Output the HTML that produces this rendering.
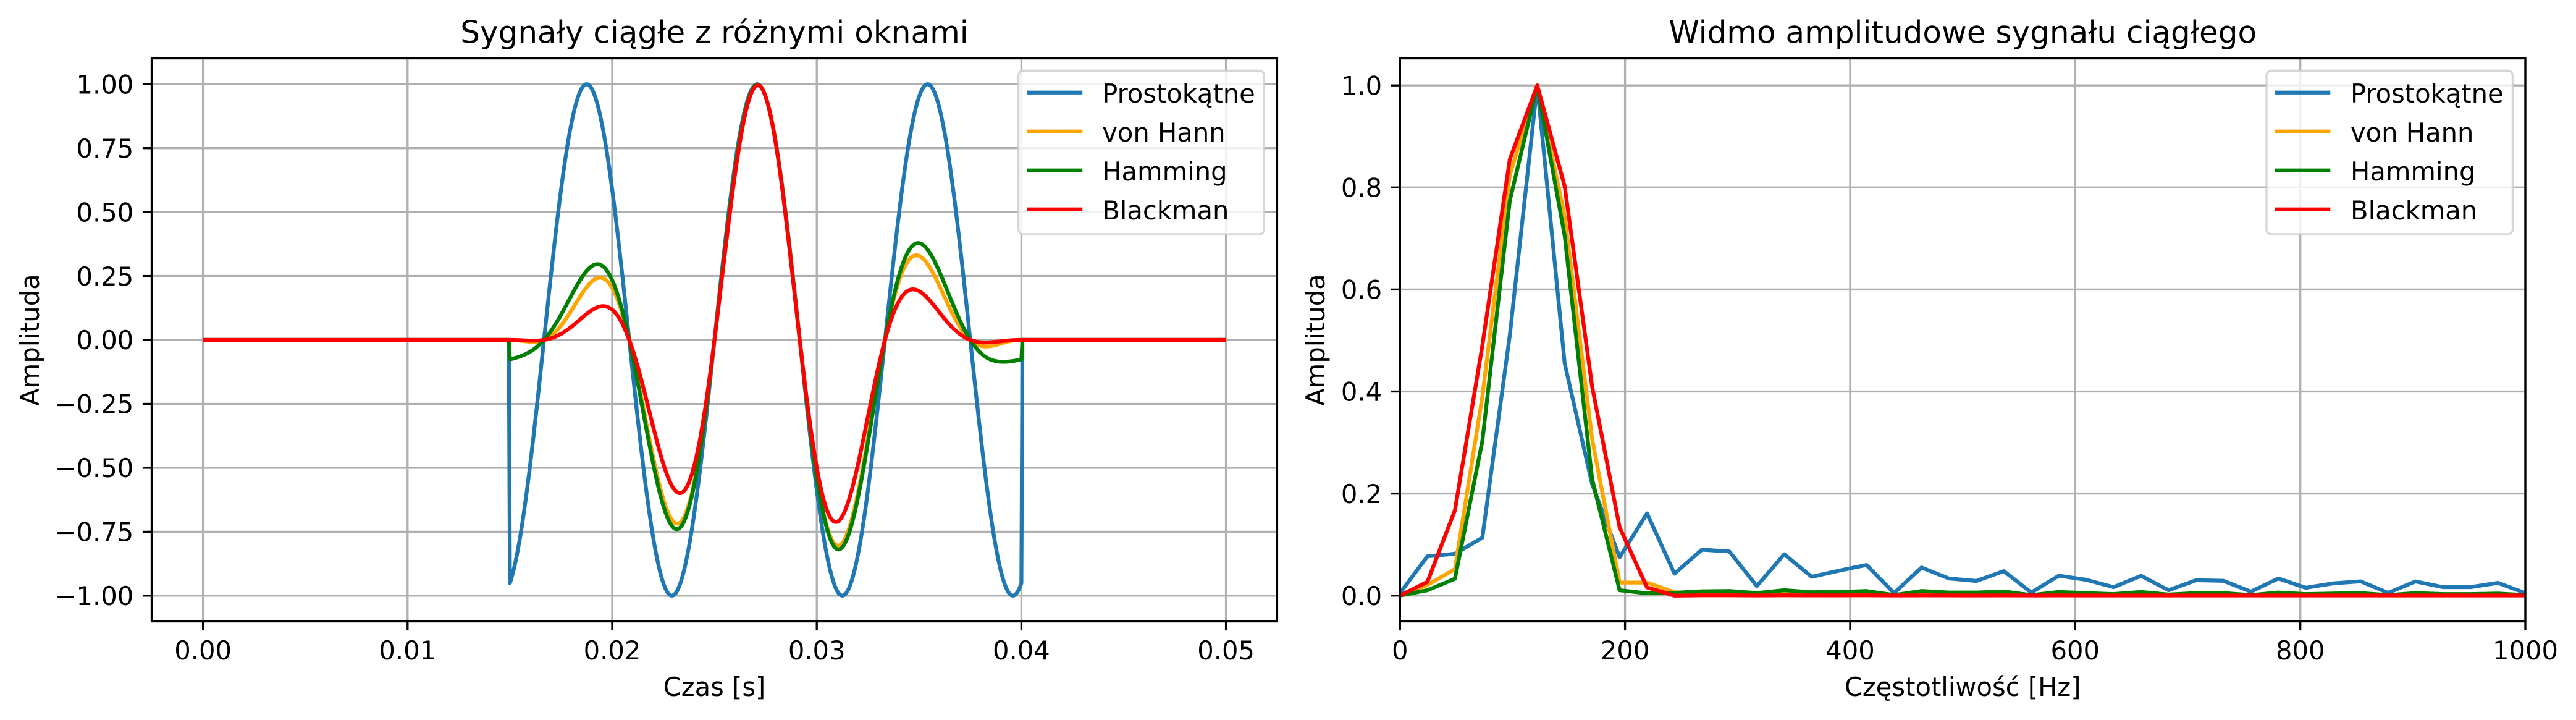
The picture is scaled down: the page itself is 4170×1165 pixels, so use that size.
<!DOCTYPE html>
<html>
<head>
<meta charset="utf-8">
<style>
  html, body { margin: 0; padding: 0; background: #ffffff; }
  svg { display: block; }
  text { font-family: "DejaVu Sans", "Liberation Sans", sans-serif; fill: #000; }
</style>
</head>
<body>
<svg id="fig" xmlns="http://www.w3.org/2000/svg" width="4170" height="1165" viewBox="0 0 4170 1165">
  <rect x="0" y="0" width="4170" height="1165" fill="#ffffff"/>
  <defs>
    <clipPath id="clipL"><rect x="245.5" y="94.5" width="1821.9" height="911"/></clipPath>
    <clipPath id="clipR"><rect x="2266.3" y="94.5" width="1821.7" height="911"/></clipPath>
  </defs>

  <!-- ===================== LEFT AXES ===================== -->
  <g stroke="#b0b0b0" stroke-width="3.33" fill="none">
    <!-- vertical grid -->
    <line x1="328.6" y1="94.5" x2="328.6" y2="1005.5"/>
    <line x1="659.8" y1="94.5" x2="659.8" y2="1005.5"/>
    <line x1="991.0" y1="94.5" x2="991.0" y2="1005.5"/>
    <line x1="1322.2" y1="94.5" x2="1322.2" y2="1005.5"/>
    <line x1="1653.4" y1="94.5" x2="1653.4" y2="1005.5"/>
    <line x1="1984.6" y1="94.5" x2="1984.6" y2="1005.5"/>
    <!-- horizontal grid -->
    <line x1="245.5" y1="136.2" x2="2067.4" y2="136.2"/>
    <line x1="245.5" y1="239.7" x2="2067.4" y2="239.7"/>
    <line x1="245.5" y1="343.1" x2="2067.4" y2="343.1"/>
    <line x1="245.5" y1="446.6" x2="2067.4" y2="446.6"/>
    <line x1="245.5" y1="550.0" x2="2067.4" y2="550.0"/>
    <line x1="245.5" y1="653.5" x2="2067.4" y2="653.5"/>
    <line x1="245.5" y1="756.9" x2="2067.4" y2="756.9"/>
    <line x1="245.5" y1="860.4" x2="2067.4" y2="860.4"/>
    <line x1="245.5" y1="963.8" x2="2067.4" y2="963.8"/>
  </g>

  <g clip-path="url(#clipL)" fill="none" stroke-width="6.25" stroke-linejoin="round" stroke-linecap="butt">
    <path id="L0" stroke="#1f77b4" d=""/>
    <path id="L1" stroke="#ffa500" d=""/>
    <path id="L2" stroke="#008000" d=""/>
    <path id="L3" stroke="#ff0000" d=""/>
  </g>

  <!-- spines left -->
  <rect x="245.5" y="94.5" width="1821.9" height="911" fill="none" stroke="#000" stroke-width="3.33"/>
  <!-- ticks left -->
  <g stroke="#000" stroke-width="3.33">
    <line x1="328.6" y1="1005.5" x2="328.6" y2="1020.1"/>
    <line x1="659.8" y1="1005.5" x2="659.8" y2="1020.1"/>
    <line x1="991.0" y1="1005.5" x2="991.0" y2="1020.1"/>
    <line x1="1322.2" y1="1005.5" x2="1322.2" y2="1020.1"/>
    <line x1="1653.4" y1="1005.5" x2="1653.4" y2="1020.1"/>
    <line x1="1984.6" y1="1005.5" x2="1984.6" y2="1020.1"/>
    <line x1="230.9" y1="136.2" x2="245.5" y2="136.2"/>
    <line x1="230.9" y1="239.7" x2="245.5" y2="239.7"/>
    <line x1="230.9" y1="343.1" x2="245.5" y2="343.1"/>
    <line x1="230.9" y1="446.6" x2="245.5" y2="446.6"/>
    <line x1="230.9" y1="550.0" x2="245.5" y2="550.0"/>
    <line x1="230.9" y1="653.5" x2="245.5" y2="653.5"/>
    <line x1="230.9" y1="756.9" x2="245.5" y2="756.9"/>
    <line x1="230.9" y1="860.4" x2="245.5" y2="860.4"/>
    <line x1="230.9" y1="963.8" x2="245.5" y2="963.8"/>
  </g>
  <!-- tick labels left -->
  <g font-size="41.67" text-anchor="middle">
    <text x="328.6" y="1067">0.00</text>
    <text x="659.8" y="1067">0.01</text>
    <text x="991.0" y="1067">0.02</text>
    <text x="1322.2" y="1067">0.03</text>
    <text x="1653.4" y="1067">0.04</text>
    <text x="1984.6" y="1067">0.05</text>
  </g>
  <g font-size="41.67" text-anchor="end">
    <text x="216.3" y="151.4">1.00</text>
    <text x="216.3" y="254.9">0.75</text>
    <text x="216.3" y="358.3">0.50</text>
    <text x="216.3" y="461.8">0.25</text>
    <text x="216.3" y="565.2">0.00</text>
    <text x="216.3" y="668.7">−0.25</text>
    <text x="216.3" y="772.1">−0.50</text>
    <text x="216.3" y="875.6">−0.75</text>
    <text x="216.3" y="979.0">−1.00</text>
  </g>
  <text x="1156.5" y="69.5" font-size="50" text-anchor="middle">Sygnały ciągłe z różnymi oknami</text>
  <text x="1156.5" y="1126" font-size="41.67" text-anchor="middle">Czas [s]</text>
  <text x="0" y="0" font-size="41.67" text-anchor="middle" transform="translate(63,550) rotate(-90)">Amplituda</text>

  <!-- legend left -->
  <rect x="1648.7" y="114.3" width="397.7" height="264.7" rx="8" ry="8" fill="#ffffff" fill-opacity="0.8" stroke="#cccccc" stroke-opacity="0.8" stroke-width="3.33"/>
  <g stroke-width="6.25">
    <line x1="1662.9" y1="149.7" x2="1752.2" y2="149.7" stroke="#1f77b4"/>
    <line x1="1662.9" y1="212.7" x2="1752.2" y2="212.7" stroke="#ffa500"/>
    <line x1="1662.9" y1="275.7" x2="1752.2" y2="275.7" stroke="#008000"/>
    <line x1="1662.9" y1="338.7" x2="1752.2" y2="338.7" stroke="#ff0000"/>
  </g>
  <g font-size="41.67">
    <text x="1784.2" y="166.2">Prostokątne</text>
    <text x="1784.2" y="229.2">von Hann</text>
    <text x="1784.2" y="292.2">Hamming</text>
    <text x="1784.2" y="355.2">Blackman</text>
  </g>

  <!-- ===================== RIGHT AXES ===================== -->
  <g stroke="#b0b0b0" stroke-width="3.33" fill="none">
    <line x1="2266.3" y1="94.5" x2="2266.3" y2="1005.5"/>
    <line x1="2630.6" y1="94.5" x2="2630.6" y2="1005.5"/>
    <line x1="2995.0" y1="94.5" x2="2995.0" y2="1005.5"/>
    <line x1="3359.3" y1="94.5" x2="3359.3" y2="1005.5"/>
    <line x1="3723.7" y1="94.5" x2="3723.7" y2="1005.5"/>
    <line x1="4088.0" y1="94.5" x2="4088.0" y2="1005.5"/>
    <line x1="2266.3" y1="138.2" x2="4088" y2="138.2"/>
    <line x1="2266.3" y1="303.3" x2="4088" y2="303.3"/>
    <line x1="2266.3" y1="468.4" x2="4088" y2="468.4"/>
    <line x1="2266.3" y1="633.5" x2="4088" y2="633.5"/>
    <line x1="2266.3" y1="798.6" x2="4088" y2="798.6"/>
    <line x1="2266.3" y1="963.7" x2="4088" y2="963.7"/>
  </g>

  <g clip-path="url(#clipR)" fill="none" stroke-width="6.25" stroke-linejoin="round" stroke-linecap="butt">
    <polyline id="R0" stroke="#1f77b4" points=""/>
    <polyline id="R1" stroke="#ffa500" points=""/>
    <polyline id="R2" stroke="#008000" points=""/>
    <polyline id="R3" stroke="#ff0000" points=""/>
  </g>

  <rect x="2266.3" y="94.5" width="1821.7" height="911" fill="none" stroke="#000" stroke-width="3.33"/>
  <g stroke="#000" stroke-width="3.33">
    <line x1="2266.3" y1="1005.5" x2="2266.3" y2="1020.1"/>
    <line x1="2630.6" y1="1005.5" x2="2630.6" y2="1020.1"/>
    <line x1="2995.0" y1="1005.5" x2="2995.0" y2="1020.1"/>
    <line x1="3359.3" y1="1005.5" x2="3359.3" y2="1020.1"/>
    <line x1="3723.7" y1="1005.5" x2="3723.7" y2="1020.1"/>
    <line x1="4088.0" y1="1005.5" x2="4088.0" y2="1020.1"/>
    <line x1="2251.7" y1="138.2" x2="2266.3" y2="138.2"/>
    <line x1="2251.7" y1="303.3" x2="2266.3" y2="303.3"/>
    <line x1="2251.7" y1="468.4" x2="2266.3" y2="468.4"/>
    <line x1="2251.7" y1="633.5" x2="2266.3" y2="633.5"/>
    <line x1="2251.7" y1="798.6" x2="2266.3" y2="798.6"/>
    <line x1="2251.7" y1="963.7" x2="2266.3" y2="963.7"/>
  </g>
  <g font-size="41.67" text-anchor="middle">
    <text x="2266.3" y="1067">0</text>
    <text x="2630.6" y="1067">200</text>
    <text x="2995.0" y="1067">400</text>
    <text x="3359.3" y="1067">600</text>
    <text x="3723.7" y="1067">800</text>
    <text x="4088.0" y="1067">1000</text>
  </g>
  <g font-size="41.67" text-anchor="end">
    <text x="2237.1" y="153.4">1.0</text>
    <text x="2237.1" y="318.5">0.8</text>
    <text x="2237.1" y="483.6">0.6</text>
    <text x="2237.1" y="648.7">0.4</text>
    <text x="2237.1" y="813.8">0.2</text>
    <text x="2237.1" y="978.9">0.0</text>
  </g>
  <text x="3177.2" y="69.5" font-size="50" text-anchor="middle">Widmo amplitudowe sygnału ciągłego</text>
  <text x="3177.2" y="1126" font-size="41.67" text-anchor="middle">Częstotliwość [Hz]</text>
  <text x="0" y="0" font-size="41.67" text-anchor="middle" transform="translate(2144,550) rotate(-90)">Amplituda</text>

  <!-- legend right -->
  <rect x="3669" y="114.3" width="398.4" height="264.7" rx="8" ry="8" fill="#ffffff" fill-opacity="0.8" stroke="#cccccc" stroke-opacity="0.8" stroke-width="3.33"/>
  <g stroke-width="6.25">
    <line x1="3683" y1="149.7" x2="3772.3" y2="149.7" stroke="#1f77b4"/>
    <line x1="3683" y1="212.7" x2="3772.3" y2="212.7" stroke="#ffa500"/>
    <line x1="3683" y1="275.7" x2="3772.3" y2="275.7" stroke="#008000"/>
    <line x1="3683" y1="338.7" x2="3772.3" y2="338.7" stroke="#ff0000"/>
  </g>
  <g font-size="41.67">
    <text x="3805" y="166.2">Prostokątne</text>
    <text x="3805" y="229.2">von Hann</text>
    <text x="3805" y="292.2">Hamming</text>
    <text x="3805" y="355.2">Blackman</text>
  </g>
</svg>

<script>
(function(){
  // ---------- Left plot: windowed sine ----------
  var fs = 20000, N = 1000;
  var i0 = 300, i1 = 800, M = i1 - i0 + 1;
  function X(t){ return 328.6 + t*33120; }
  function Y(v){ return 550.0 - v*413.8; }
  var paths = ["","","",""];
  for (var k = 0; k < 4; k++) {
    var d = [];
    for (var i = 0; i <= N; i++) {
      var t = i / fs;
      var v = 0;
      if (i >= i0 && i <= i1) {
        var n = i - i0;
        var s = Math.sin(2*Math.PI*120*t);
        var c1 = Math.cos(2*Math.PI*n/(M-1));
        var c2 = Math.cos(4*Math.PI*n/(M-1));
        var w = 1;
        if (k === 1) w = 0.5 - 0.5*c1;
        else if (k === 2) w = 0.54 - 0.46*c1;
        else if (k === 3) w = 0.42 - 0.5*c1 + 0.08*c2;
        v = s*w;
      }
      d.push((i === 0 ? "M" : "L") + X(t).toFixed(1) + "," + Y(v).toFixed(1));
    }
    document.getElementById("L"+k).setAttribute("d", d.join(""));
  }

  // ---------- Right plot: spectrum ----------
  var blue = [0.005,0.077,0.082,0.1135,0.51,1.0,0.455,0.2185,0.075,0.161,0.043,0.090,0.0865,0.0186,0.081,0.0368,0.049,0.060,0.005,0.055,0.0336,0.0287,0.048,0.006,0.039,0.031,0.0166,0.0388,0.0105,0.030,0.029,0.0077,0.0336,0.0154,0.024,0.028,0.0053,0.0277,0.0166,0.0166,0.025,0.005];
  var orange = [0,0.021,0.052,0.39,0.824,1.0,0.743,0.307,0.0255,0.0255,0.0065,0.003,0.003,0.001,0.003,0.002,0.002,0.003,0.001,0.002,0.002,0.002,0.002,0.001,0.002,0.002,0.001,0.002,0.001,0.002,0.002,0.001,0.002,0.001,0.001,0.002,0.001,0.002,0.001,0.001,0.001,0.001];
  var green = [0,0.0105,0.033,0.303,0.774,1.0,0.705,0.2286,0.0105,0.0045,0.0055,0.0085,0.009,0.005,0.0105,0.0065,0.007,0.009,0.001,0.009,0.006,0.006,0.008,0.001,0.007,0.005,0.003,0.007,0.002,0.005,0.005,0.001,0.006,0.003,0.004,0.005,0.001,0.005,0.003,0.003,0.004,0.001];
  var red = [0,0.027,0.167,0.49,0.855,1.0,0.802,0.41,0.134,0.016,0.0,0.0005,0.0005,0.0003,0.0005,0.0004,0.0004,0.0005,0.0002,0.0004,0.0004,0.0003,0.0004,0.0002,0.0004,0.0003,0.0002,0.0003,0.0002,0.0003,0.0003,0.0002,0.0003,0.0002,0.0002,0.0003,0.0002,0.0003,0.0002,0.0002,0.0002,0.0002];
  var series = [blue, orange, green, red];
  for (var s = 0; s < 4; s++) {
    var pts = [];
    var arr = series[s];
    for (var j = 0; j < arr.length; j++) {
      var f = j*1000/41;
      var x = 2266.3 + f*1.82170;
      var y = 963.7 - arr[j]*825.5;
      pts.push(x.toFixed(1) + "," + y.toFixed(1));
    }
    document.getElementById("R"+s).setAttribute("points", pts.join(" "));
  }
})();
</script>
</body>
</html>
